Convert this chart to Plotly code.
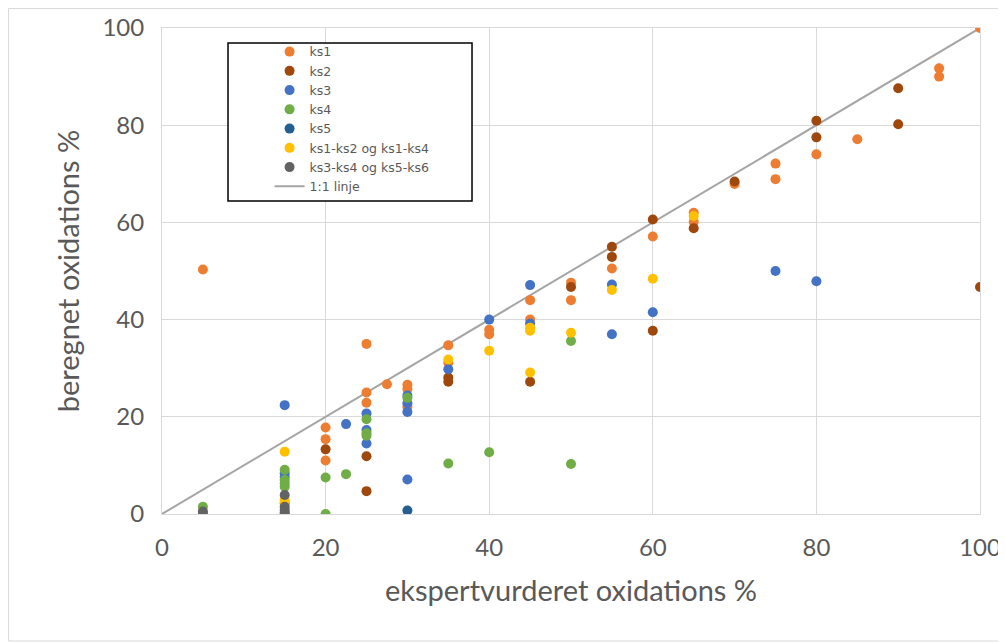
import plotly.graph_objects as go

# ---- data ----
ks1_x = [5, 20, 20, 20, 25, 25, 25, 27.5, 30, 30, 30, 35, 35, 40, 40, 45, 45, 50, 50, 55, 60, 65, 65, 70, 75, 75, 80, 85, 95, 95, 100]
ks1_y = [50.3, 17.8, 15.4, 11.0, 35.0, 25.0, 22.9, 26.7, 26.6, 25.7, 22.0, 34.7, 31.1, 37.9, 37.0, 44.0, 40.0, 47.6, 44.0, 50.5, 57.1, 62.0, 60.1, 67.9, 72.1, 68.9, 74.0, 77.1, 91.7, 90.0, 100.0]

ks2_x = [20, 25, 25, 35, 35, 45, 50, 55, 55, 60, 60, 65, 70, 80, 80, 90, 90, 100]
ks2_y = [13.3, 11.9, 4.7, 28.1, 27.2, 27.2, 46.7, 55.0, 52.9, 60.6, 37.7, 58.8, 68.4, 80.9, 77.5, 87.6, 80.2, 46.7]

ks3_x = [15, 15, 15, 15, 22.5, 25, 25, 25, 30, 30, 30, 30, 35, 40, 45, 45, 55, 55, 60, 75, 80]
ks3_y = [22.4, 8.4, 7.6, 0.0, 18.5, 20.7, 17.3, 14.5, 24.4, 22.8, 21.0, 7.1, 29.8, 40.0, 47.1, 39.2, 47.2, 37.0, 41.5, 50.0, 47.9]

ks4_x = [5, 15, 15, 15, 15, 15, 20, 20, 22.5, 25, 25, 25, 30, 35, 40, 50, 50]
ks4_y = [1.5, 9.1, 7.0, 6.3, 5.6, 2.2, 7.5, 0.0, 8.2, 19.5, 16.6, 16.1, 23.9, 10.4, 12.7, 35.6, 10.3]

ks5_x = [30]
ks5_y = [0.7]

mix1_x = [15, 15, 15, 35, 40, 45, 45, 45, 50, 55, 60, 65]
mix1_y = [12.8, 2.9, 2.4, 31.8, 33.6, 38.3, 37.7, 29.1, 37.3, 46.1, 48.4, 61.3]

mix2_x = [5, 5, 15, 15, 15, 15]
mix2_y = [0.5, 0.0, 3.9, 1.5, 0.8, 0.3]

line_x = [0, 100]
line_y = [0, 100]

ticks = [0, 20, 40, 60, 80, 100]

series = [
    ("ks1", ks1_x, ks1_y, "#ED7D31"),
    ("ks2", ks2_x, ks2_y, "#9E480E"),
    ("ks3", ks3_x, ks3_y, "#4472C4"),
    ("ks4", ks4_x, ks4_y, "#70AD47"),
    ("ks5", ks5_x, ks5_y, "#255E91"),
    ("ks1-ks2 og ks1-ks4", mix1_x, mix1_y, "#FFC000"),
    ("ks3-ks4 og ks5-ks6", mix2_x, mix2_y, "#636363"),
]

FONT = "Lato"

fig = go.Figure()
fig.add_trace(go.Scatter(x=line_x, y=line_y, mode="lines", name="1:1 linje",
                         line=dict(color="#A5A5A5", width=2), legendrank=1000))
for i, (name, xs, ys, col) in enumerate(series):
    fig.add_trace(go.Scatter(x=xs, y=ys, mode="markers", name=name,
                             marker=dict(color=col, size=10, line=dict(width=0)),
                             legendrank=i + 1))

fig.update_layout(
    width=998, height=636,
    margin=dict(l=154, r=26, t=20, b=130, autoexpand=False),
    paper_bgcolor="white", plot_bgcolor="white",
    font=dict(family=FONT, color="#595959"),
    showlegend=True,
    legend=dict(x=0.1315, y=0.9815, xanchor="left", yanchor="top",
                bgcolor="rgba(255,255,255,0)", borderwidth=0,
                font=dict(family="DejaVu Sans", size=12.5, color="#595959"),
                itemwidth=30, tracegroupgap=0),
    shapes=[
        dict(type="rect", xref="paper", yref="paper",
             x0=-0.1877, x1=1.0244, y0=-0.2613, y1=1.040,
             line=dict(color="#D9D9D9", width=1), fillcolor="rgba(0,0,0,0)", layer="below"),
        dict(type="rect", xref="paper", yref="paper",
             x0=0.0807, x1=0.379, y0=0.644, y1=0.969,
             line=dict(color="black", width=1.5), fillcolor="white", layer="above"),
    ],
)
fig.update_xaxes(range=[0, 100], tickvals=ticks, showgrid=True, gridcolor="#D9D9D9", gridwidth=1,
                 zeroline=False, showline=True, linecolor="#D9D9D9", linewidth=1, mirror=True,
                 automargin=False,
                 ticks="", ticklabelstandoff=12, tickfont=dict(size=24, color="#595959"),
                 title=dict(text="ekspertvurderet oxidations %", font=dict(size=29, color="#595959"), standoff=20))
fig.update_yaxes(range=[0, 100], tickvals=ticks, showgrid=True, gridcolor="#D9D9D9", gridwidth=1,
                 zeroline=False, showline=True, linecolor="#D9D9D9", linewidth=1, mirror=True,
                 automargin=False,
                 ticks="", ticklabelstandoff=12, tickfont=dict(size=24, color="#595959"),
                 title=dict(text="beregnet oxidations %", font=dict(size=29, color="#595959"), standoff=14))

fig.write_html("out.html")
